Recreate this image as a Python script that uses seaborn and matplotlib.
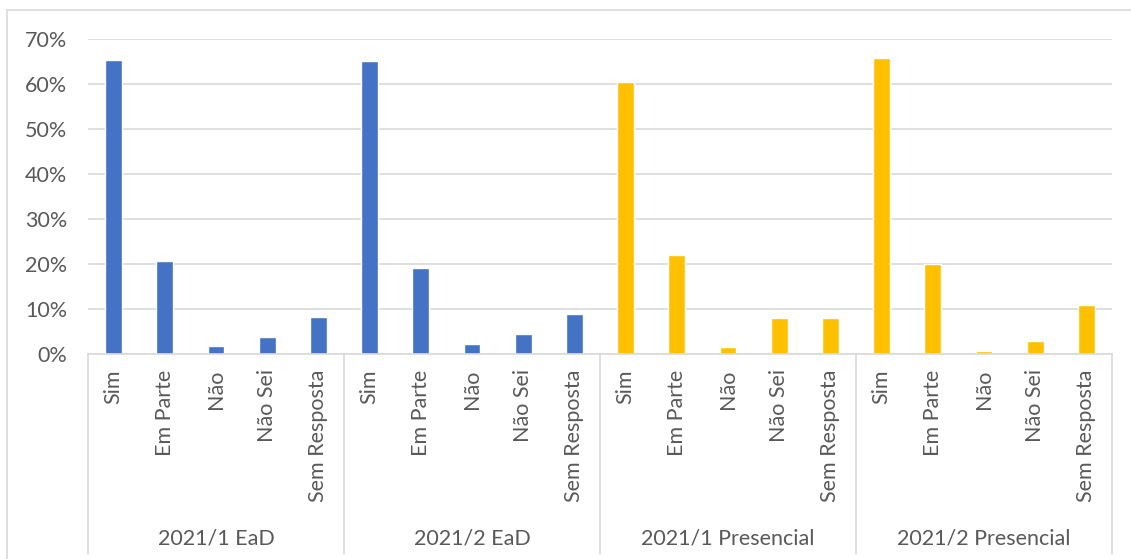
import pandas as pd
import matplotlib.pyplot as plt
import seaborn as sns
from matplotlib.ticker import PercentFormatter
from matplotlib.lines import Line2D

sns.set_theme(style="white")
plt.rcParams['font.family'] = ['Lato', 'DejaVu Sans']

# ---------------------------
# dados
# ---------------------------
grupos = ['2021/1 EaD', '2021/2 EaD', '2021/1 Presencial', '2021/2 Presencial']
respostas = ['Sim', 'Em Parte', 'Não', 'Não Sei', 'Sem Resposta']
modalidade = ['EaD', 'EaD', 'Presencial', 'Presencial']
v_2021_1_ead = [0.653, 0.206, 0.018, 0.038, 0.083]
v_2021_2_ead = [0.651, 0.192, 0.023, 0.045, 0.089]
v_2021_1_pres = [0.604, 0.221, 0.016, 0.079, 0.079]
v_2021_2_pres = [0.657, 0.199, 0.007, 0.030, 0.108]
cores = {'EaD': '#4472C4', 'Presencial': '#FFC000'}

valores = [v_2021_1_ead, v_2021_2_ead, v_2021_1_pres, v_2021_2_pres]
linhas = []
for g, m, vals in zip(grupos, modalidade, valores):
    for r, v in zip(respostas, vals):
        linhas.append({'chave': f'{g}|{r}', 'grupo': g, 'resposta': r,
                       'modalidade': m, 'valor': v})
df = pd.DataFrame(linhas)

# ---------------------------
# gráfico
# ---------------------------
fig = plt.figure(figsize=(11.31, 5.59), dpi=100)
ax = fig.add_axes([88 / 1131, 1 - 354 / 559, (1112 - 88) / 1131, 315 / 559])

sns.barplot(data=df, x='chave', y='valor', hue='modalidade', palette=cores,
            dodge=False, width=0.33, legend=False, ax=ax, saturation=1)

texto = '#595959'
fs = 15.5
ax.set_ylim(0, 0.7)
ax.set_yticks([i / 10 for i in range(8)])
ax.yaxis.set_major_formatter(PercentFormatter(1.0, decimals=0))
ax.set_xlim(-0.5, len(df) - 0.5)
ax.set_xticks(range(len(df)))
ax.set_xticklabels(df['resposta'], rotation=90, va='top')
ax.tick_params(axis='x', length=0, pad=11, labelsize=fs, labelcolor=texto)
ax.tick_params(axis='y', length=0, pad=15, labelsize=fs, labelcolor=texto)
ax.set_xlabel('')
ax.set_ylabel('')
ax.yaxis.grid(True, color='#D9D9D9', linewidth=1.2)
ax.set_axisbelow(True)
for s in ['left', 'right', 'top']:
    ax.spines[s].set_visible(False)
ax.spines['bottom'].set_color('#D9D9D9')
ax.spines['bottom'].set_linewidth(1.2)

# separadores dos grupos e rótulos
trans = ax.get_xaxis_transform()
n = len(respostas)
for i in range(len(grupos) + 1):
    ax.plot([i * n - 0.5, i * n - 0.5], [0, -0.635], transform=trans,
            color='#D9D9D9', linewidth=1.2, clip_on=False)
for i, g in enumerate(grupos):
    ax.text(i * n + (n - 1) / 2, -0.585, g, transform=trans, ha='center',
            va='center', fontsize=fs, color=texto)

# borda do gráfico
fig.add_artist(Line2D([7 / 1131, 7 / 1131], [0, 1 - 10 / 559], color='#D9D9D9', linewidth=1.2))
fig.add_artist(Line2D([7 / 1131, 1], [1 - 10 / 559, 1 - 10 / 559], color='#D9D9D9', linewidth=1.2))

fig.savefig('out.png', dpi=100)
